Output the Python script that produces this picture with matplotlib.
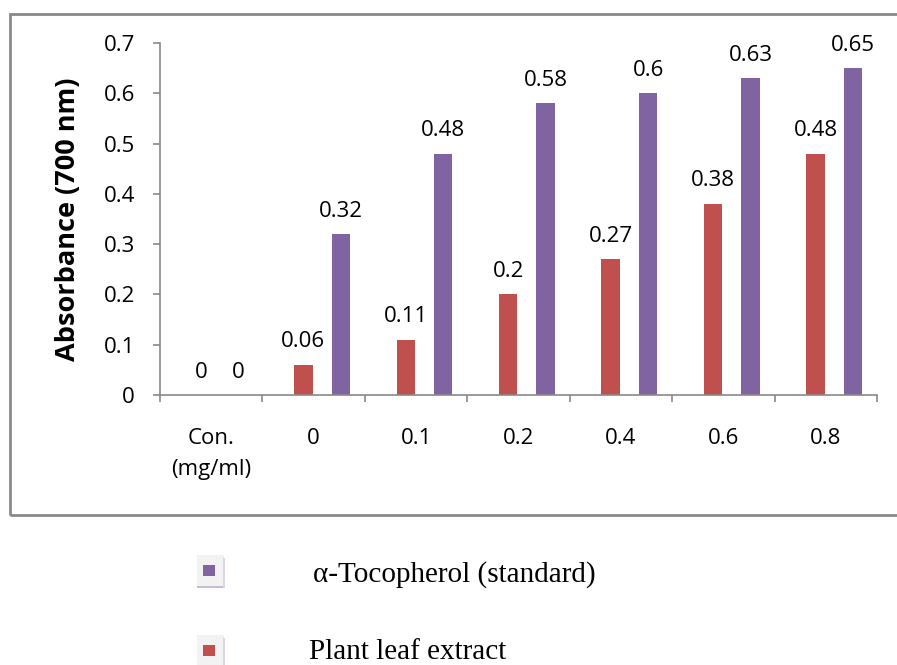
import matplotlib.pyplot as plt
from matplotlib.patches import Rectangle
import numpy as np

categories = ['Con.\n(mg/ml)', '0', '0.1', '0.2', '0.4', '0.6', '0.8']
plant_extract = [0, 0.06, 0.11, 0.2, 0.27, 0.38, 0.48]
tocopherol = [0, 0.32, 0.48, 0.58, 0.6, 0.63, 0.65]
series_names = ['\u03b1-Tocopherol (standard)', 'Plant leaf extract']

red = '#C0504D'
purple = '#8064A2'
gray = '#898989'

plt.rcParams['font.family'] = ['Open Sans', 'DejaVu Sans']

fig = plt.figure(figsize=(8.97, 6.65), dpi=100)
ax = fig.add_axes([0.1784, 0.406, 0.7993, 0.5293])

x = np.arange(len(categories))
w = 0.18
bars_red = ax.bar(x - 0.1, plant_extract, w, color=red)
bars_pur = ax.bar(x + 0.265, tocopherol, w, color=purple)

for bars, vals in [(bars_red, plant_extract), (bars_pur, tocopherol)]:
    for b, v in zip(bars, vals):
        ax.annotate(f'{v:g}', (b.get_x() + b.get_width() / 2, v),
                    xytext=(0, 9), textcoords='offset points',
                    ha='center', va='bottom', fontsize=16)

ax.set_xlim(-0.5, len(categories) - 0.5)
ax.set_ylim(0, 0.7)
ax.set_yticks(np.arange(0, 0.71, 0.1))
ax.set_yticklabels(['0', '0.1', '0.2', '0.3', '0.4', '0.5', '0.6', '0.7'])
ax.set_xticks(np.arange(-0.5, len(categories), 1.0))
ax.set_xticklabels([])
ax.set_xticks(x, minor=True)
ax.set_xticklabels(categories, minor=True, linespacing=1.6)
ax.tick_params(axis='x', which='minor', length=0, pad=24, labelsize=16)
ax.tick_params(axis='x', which='major', length=5, color=gray, width=1.2)
ax.tick_params(axis='y', length=5, color=gray, width=1.2, labelsize=16, pad=13)

for s in ['top', 'right']:
    ax.spines[s].set_visible(False)
for s in ['left', 'bottom']:
    ax.spines[s].set_color(gray)
    ax.spines[s].set_linewidth(1.2)

ax.set_ylabel('Absorbance (700 nm)', fontsize=19.5, fontweight='bold', labelpad=16)

# outer chart border
fig.patches.append(Rectangle((10 / 897, 1 - 515 / 665), 900 / 897, (515 - 14) / 665,
                             transform=fig.transFigure, fill=False,
                             edgecolor=gray, linewidth=2))

# legend below the chart (light box with a faint shadow)
for ytop, col, name, tx, ty in [(555, purple, series_names[0], 313, 575),
                                (635, red, series_names[1], 309, 652)]:
    fig.patches.append(Rectangle((197 / 897, 1 - (ytop + 32) / 665), 27 / 897, 32 / 665,
                                 transform=fig.transFigure, facecolor='#f2f2f2',
                                 edgecolor='none'))
    fig.patches.append(Rectangle((197 / 897, 1 - (ytop + 33) / 665), 28 / 897, 2 / 665,
                                 transform=fig.transFigure, facecolor='#c8bcd4',
                                 edgecolor='none'))
    fig.patches.append(Rectangle((223 / 897, 1 - (ytop + 33) / 665), 1.5 / 897, 30 / 665,
                                 transform=fig.transFigure, facecolor='#ddd5e4',
                                 edgecolor='none'))
    fig.patches.append(Rectangle((203 / 897, 1 - (ytop + 21) / 665), 12 / 897, 11 / 665,
                                 transform=fig.transFigure, facecolor=col, edgecolor='none'))
    fig.text(tx / 897, 1 - ty / 665, name, family='Liberation Serif', fontsize=21,
             va='center', ha='left')

fig.savefig('out.png', dpi=100)
